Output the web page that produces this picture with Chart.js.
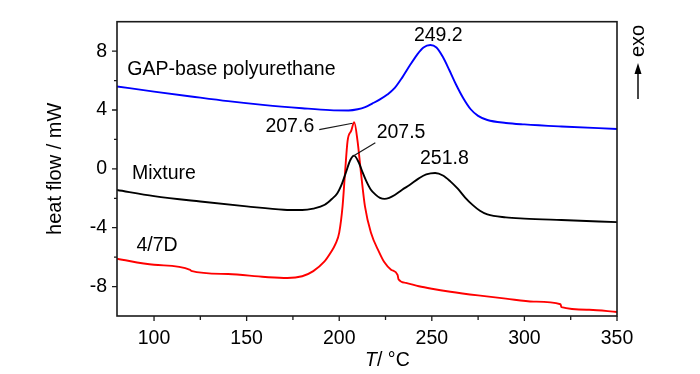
<!DOCTYPE html>
<html lang="en">
<head>
  <meta charset="UTF-8" />
  <title>DSC curves</title>
  <script src="https://cdn.jsdelivr.net/npm/chart.js"></script>
  <style>
    html, body { margin: 0; padding: 0; background: #fff; }
    #wrap { width: 700px; height: 374px; }
  </style>
</head>
<body>
  <div id="wrap"><canvas id="dsc" width="700" height="374"></canvas></div>

  <script>
    // temperatures (°C) and heat flow (mW)
    const tGap = [80, 100, 120, 140, 160, 180, 195, 205, 210, 214, 218, 222, 226, 230, 234, 238, 242, 245.5, 249.2, 252.5, 256, 259.5, 263, 267, 271, 275, 280, 290, 300, 320, 350];
    const hGap = [5.6, 5.25, 4.92, 4.6, 4.33, 4.12, 3.99, 3.97, 4.05, 4.2, 4.45, 4.72, 5.05, 5.5, 6.2, 7.0, 7.75, 8.25, 8.42, 8.25, 7.6, 6.7, 5.75, 4.8, 4.05, 3.6, 3.32, 3.12, 3.02, 2.88, 2.71];

    const tMix = [80, 100, 125, 150, 170, 180, 186, 192.2, 196, 198.9, 201.5, 203.4, 206, 208, 210.5, 212.5, 214.5, 217, 219.6, 222, 224.5, 227, 230, 234, 238, 243, 247, 251.8, 256, 260, 264, 268, 272, 276, 280, 290, 300, 320, 350];
    const hMix = [-1.44, -1.85, -2.22, -2.55, -2.78, -2.8, -2.7, -2.44, -2.05, -1.67, -1.0, -0.33, 0.6, 0.9, 0.45, -0.2, -0.8, -1.4, -1.75, -1.97, -2.04, -1.97, -1.78, -1.42, -1.1, -0.65, -0.38, -0.28, -0.45, -0.85, -1.35, -1.95, -2.45, -2.85, -3.1, -3.3, -3.38, -3.48, -3.62];

    const t47d = [80, 100, 119.5, 120, 140, 160, 172, 180, 186, 191.8, 195.5, 198, 200, 201.8, 203.1, 204.5, 206.5, 208.1, 209.9, 211.8, 213.9, 217.1, 221.6, 224.3, 228, 231.5, 232, 236, 243, 250, 260, 275, 290, 305, 319.5, 320, 335, 350];
    const h47d = [-6.11, -6.52, -6.86, -6.93, -7.15, -7.35, -7.42, -7.3, -6.95, -6.33, -5.67, -5.1, -4.33, -2.55, -0.33, 1.89, 2.6, 3.17, 1.89, -0.33, -2.55, -4.33, -5.67, -6.33, -6.85, -7.2, -7.5, -7.75, -7.98, -8.15, -8.35, -8.6, -8.82, -9.02, -9.2, -9.4, -9.58, -9.73];

    const xTicks = [100, 150, 200, 250, 300, 350];
    const xMinor = [125, 175, 225, 275, 325];
    const yTicks = [-8, -4, 0, 4, 8];
    const yMinor = [-6, -2, 2, 6];

    const FONT = '"Liberation Sans", Arial, sans-serif';

    function pts(ts, hs) {
      return ts.map((t, i) => ({ x: t, y: hs[i] }));
    }

    // labels placed in data units (T, mW)
    const notes = [
      { text: 'GAP-base polyurethane', x: 85.6, y: 6.73, align: 'left' },
      { text: 'Mixture', x: 88.1, y: -0.31, align: 'left' },
      { text: '4/7D', x: 90.5, y: -5.22, align: 'left' },
      { text: '207.6', x: 186.5, y: 2.89, align: 'right' },
      { text: '207.5', x: 220.2, y: 2.47, align: 'left' },
      { text: '249.2', x: 253.5, y: 9.02, align: 'center' },
      { text: '251.8', x: 256.8, y: 0.67, align: 'center' }
    ];
    const leaders = [
      [189.2, 2.67, 207.2, 3.1],
      [219.5, 1.78, 207.4, 0.85]
    ];

    const extras = {
      id: 'extras',
      afterDraw(chart) {
        const ctx = chart.ctx;
        const a = chart.chartArea;
        const xs = chart.scales.x, ys = chart.scales.y;
        ctx.save();
        ctx.strokeStyle = '#1a1a1a';
        ctx.fillStyle = '#000';

        // frame
        ctx.lineWidth = 1.6;
        ctx.strokeRect(a.left, a.top, a.right - a.left, a.bottom - a.top);

        // tick marks, outward
        ctx.lineWidth = 1.3;
        ctx.beginPath();
        xTicks.forEach(v => { const p = xs.getPixelForValue(v); ctx.moveTo(p, a.bottom); ctx.lineTo(p, a.bottom + 5); });
        xMinor.forEach(v => { const p = xs.getPixelForValue(v); ctx.moveTo(p, a.bottom); ctx.lineTo(p, a.bottom + 4); });
        yTicks.forEach(v => { const p = ys.getPixelForValue(v); ctx.moveTo(a.left, p); ctx.lineTo(a.left - 5, p); });
        yMinor.forEach(v => { const p = ys.getPixelForValue(v); ctx.moveTo(a.left, p); ctx.lineTo(a.left - 3, p); });
        ctx.stroke();

        // curve labels
        ctx.font = '19.5px ' + FONT;
        ctx.textBaseline = 'middle';
        notes.forEach(n => {
          ctx.textAlign = n.align;
          ctx.fillText(n.text, xs.getPixelForValue(n.x), ys.getPixelForValue(n.y));
        });
        ctx.lineWidth = 1.2;
        ctx.beginPath();
        leaders.forEach(l => {
          ctx.moveTo(xs.getPixelForValue(l[0]), ys.getPixelForValue(l[1]));
          ctx.lineTo(xs.getPixelForValue(l[2]), ys.getPixelForValue(l[3]));
        });
        ctx.stroke();

        // axis titles
        ctx.font = '20px ' + FONT;
        ctx.textAlign = 'center';
        ctx.save();
        ctx.translate(55, (a.top + a.bottom) / 2);
        ctx.rotate(-Math.PI / 2);
        ctx.fillText('heat flow / mW', 0, 0);
        ctx.restore();

        ctx.textAlign = 'left';
        ctx.font = 'italic 19.5px ' + FONT;
        ctx.fillText('T', 365, 361);
        ctx.font = '19.5px ' + FONT;
        ctx.fillText('/ \u00B0C', 377, 361);

        // exo arrow
        const ex = a.right + 21;
        ctx.save();
        ctx.translate(ex, 41);
        ctx.rotate(-Math.PI / 2);
        ctx.textAlign = 'center';
        ctx.font = '20px ' + FONT;
        ctx.fillText('exo', 0, 0);
        ctx.restore();
        ctx.lineWidth = 1.6;
        ctx.beginPath();
        ctx.moveTo(ex, 99);
        ctx.lineTo(ex, 72);
        ctx.stroke();
        ctx.beginPath();
        ctx.moveTo(ex, 63);
        ctx.lineTo(ex - 3.5, 74);
        ctx.lineTo(ex + 3.5, 74);
        ctx.closePath();
        ctx.fill();

        ctx.restore();
      }
    };

    new Chart(document.getElementById('dsc'), {
      type: 'line',
      data: {
        datasets: [
          { label: 'GAP-base polyurethane', data: pts(tGap, hGap), borderColor: '#0000ff' },
          { label: 'Mixture', data: pts(tMix, hMix), borderColor: '#000000' },
          { label: '4/7D', data: pts(t47d, h47d), borderColor: '#ff0000' }
        ]
      },
      options: {
        responsive: false,
        animation: false,
        events: [],
        layout: { padding: { left: 0, right: 83, top: 16, bottom: 0 } },
        elements: {
          point: { radius: 0 },
          line: { borderWidth: 1.9, cubicInterpolationMode: 'monotone', fill: false }
        },
        plugins: { legend: { display: false }, tooltip: { enabled: false } },
        scales: {
          x: {
            type: 'linear',
            min: 80,
            max: 350,
            afterBuildTicks: s => { s.ticks = xTicks.map(v => ({ value: v })); },
            afterFit: s => { s.height = 58; },
            grid: { display: false, drawTicks: false },
            border: { display: false },
            ticks: { color: '#000', font: { family: FONT, size: 19.5 }, padding: 11, maxRotation: 0 }
          },
          y: {
            min: -10,
            max: 10,
            afterBuildTicks: s => { s.ticks = yTicks.map(v => ({ value: v })); },
            afterFit: s => { s.width = 117; },
            grid: { display: false, drawTicks: false },
            border: { display: false },
            ticks: { color: '#000', font: { family: FONT, size: 19.5 }, padding: 10 }
          }
        }
      },
      plugins: [extras]
    });
  </script>
</body>
</html>
